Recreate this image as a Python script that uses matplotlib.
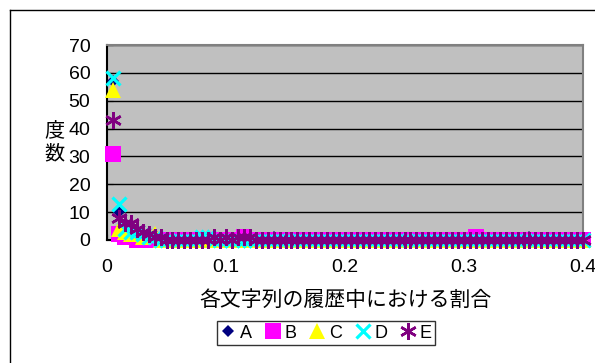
import matplotlib
matplotlib.use('Agg')
import matplotlib.pyplot as plt
from matplotlib.lines import Line2D

plt.rcParams['font.family'] = ['Liberation Sans', 'Noto Sans CJK JP', 'DejaVu Sans']

# 横軸: 割合の区間 (0.005 刻み)
ratio = [0.005, 0.010, 0.015, 0.020, 0.025, 0.030, 0.035, 0.040, 0.045, 0.050,
         0.055, 0.060, 0.065, 0.070, 0.075, 0.080, 0.085, 0.090, 0.095, 0.100,
         0.105, 0.110, 0.115, 0.120, 0.125, 0.130, 0.135, 0.140, 0.145, 0.150,
         0.155, 0.160, 0.165, 0.170, 0.175, 0.180, 0.185, 0.190, 0.195, 0.200,
         0.205, 0.210, 0.215, 0.220, 0.225, 0.230, 0.235, 0.240, 0.245, 0.250,
         0.255, 0.260, 0.265, 0.270, 0.275, 0.280, 0.285, 0.290, 0.295, 0.300,
         0.305, 0.310, 0.315, 0.320, 0.325, 0.330, 0.335, 0.340, 0.345, 0.350,
         0.355, 0.360, 0.365, 0.370, 0.375, 0.380, 0.385, 0.390, 0.395, 0.400]

# 度数
A = [57, 10, 3, 2, 1, 1, 0, 0, 0, 0, 0, 0, 0, 0, 0, 0, 0, 0, 0, 0,
     0, 0, 0, 0, 0, 0, 0, 1, 0, 0, 0, 0, 0, 0, 0, 0, 0, 0, 0, 0,
     0, 0, 0, 0, 0, 0, 0, 0, 0, 0, 0, 0, 0, 0, 0, 0, 0, 0, 0, 0,
     0, 0, 0, 0, 0, 0, 0, 0, 0, 0, 1, 0, 0, 0, 0, 0, 0, 0, 0, 0]
B = [31, 2, 1, 1, 0, 0, 0, 0, 0, 0, 0, 0, 0, 0, 0, 0, 0, 0, 0, 0,
     0, 0, 1, 0, 0, 0, 0, 0, 0, 0, 0, 0, 0, 0, 0, 0, 0, 0, 0, 0,
     0, 0, 0, 0, 0, 0, 0, 0, 0, 0, 0, 0, 0, 0, 0, 0, 0, 0, 0, 0,
     0, 1, 0, 0, 0, 0, 0, 0, 0, 0, 0, 0, 0, 0, 0, 0, 0, 0, 0, 0]
C = [54, 4, 3, 2, 2, 1, 2, 2, 0, 0, 0, 0, 0, 0, 0, 0, 0, 0, 0, 0,
     0, 0, 0, 0, 0, 0, 0, 0, 0, 0, 0, 0, 0, 0, 0, 0, 0, 0, 0, 0,
     0, 0, 0, 0, 0, 0, 0, 0, 0, 0, 0, 0, 0, 0, 0, 0, 0, 0, 0, 0,
     0, 0, 0, 0, 0, 0, 0, 0, 0, 0, 0, 0, 0, 0, 0, 0, 0, 0, 0, 0]
D = [58, 13, 4, 3, 3, 2, 1, 1, 0, 0, 0, 0, 0, 0, 0, 1, 1, 0, 0, 0,
     0, 0, 0, 0, 0, 0, 0, 0, 0, 0, 0, 0, 0, 0, 0, 0, 0, 0, 0, 0,
     0, 0, 0, 0, 0, 0, 0, 0, 0, 0, 0, 0, 0, 0, 0, 0, 0, 0, 0, 0,
     0, 0, 0, 0, 0, 0, 0, 0, 0, 0, 0, 0, 0, 0, 0, 0, 0, 0, 0, 0]
E = [43, 8, 6, 6, 4, 3, 2, 1, 1, 0, 0, 0, 0, 0, 0, 0, 0, 1, 0, 1,
     0, 1, 1, 1, 0, 0, 0, 0, 0, 0, 0, 0, 0, 0, 0, 0, 0, 0, 0, 0,
     0, 0, 0, 0, 0, 0, 0, 0, 0, 0, 0, 0, 0, 0, 0, 0, 0, 0, 0, 0,
     0, 0, 0, 0, 0, 0, 0, 0, 0, 0, 0, 0, 0, 0, 0, 0, 0, 0, 0, 0]

x_ticks = [0, 0.1, 0.2, 0.3, 0.4]
y_ticks = [0, 10, 20, 30, 40, 50, 60, 70]

fig = plt.figure(figsize=(5.95, 3.63), dpi=100)
ax = fig.add_axes([107 / 595, 1 - 240 / 363, 476 / 595, 195 / 363])
ax.set_facecolor('#C0C0C0')

styles = [
    ('A', A, dict(marker='D', color='#000080', ms=6.5, mew=0)),
    ('B', B, dict(marker='s', color='#FF00FF', ms=11, mew=0)),
    ('C', C, dict(marker='^', color='#FFFF00', ms=11, mew=0)),
    ('D', D, dict(marker='x', color='#00FFFF', ms=10, mew=2.3)),
    ('E', E, dict(marker=(6, 2, 0), color='#800080', ms=12, mew=1.8)),
]
for name, vals, kw in styles:
    ax.plot(ratio, vals, linestyle='none', label=name, clip_on=False, zorder=3, **kw)

ax.set_xlim(0, 0.4)
ax.set_ylim(0, 70)
ax.set_xticks(x_ticks)
ax.set_xticklabels(['0', '0.1', '0.2', '0.3', '0.4'])
ax.set_yticks(y_ticks)
ax.yaxis.grid(True, color='black', linewidth=1)
ax.set_axisbelow(True)
ax.tick_params(axis='both', direction='in', length=4, labelsize=14, colors='black')
ax.tick_params(axis='x', pad=14)
ax.tick_params(axis='y', pad=12)

for s in ['top', 'right']:
    ax.spines[s].set_color('#808080')
    ax.spines[s].set_linewidth(1.5)
for s in ['left', 'bottom']:
    ax.spines[s].set_color('black')
    ax.spines[s].set_linewidth(1.5)

ax.set_xlabel('各文字列の履歴中における割合', fontsize=15)
ax.xaxis.set_label_coords(0.5, -0.255)
ax.set_ylabel('度\n数', rotation=0, fontsize=14.5, linespacing=1.25, va='center', ha='center')
ax.yaxis.set_label_coords(-0.111, 0.5)

leg = ax.legend(loc='center', bbox_to_anchor=(326 / 595, 1 - 333 / 363),
                bbox_transform=fig.transFigure, ncol=5, fontsize=13,
                frameon=True, fancybox=False, handlelength=0.9, handletextpad=0.2,
                columnspacing=0.7, borderpad=0.2, borderaxespad=0)
leg.get_frame().set_edgecolor('black')
leg.get_frame().set_linewidth(1)

# 外枠 (左と上のみ見える)
fig.add_artist(Line2D([10 / 595, 10 / 595], [0, 1 - 10 / 363], color='black', lw=1))
fig.add_artist(Line2D([10 / 595, 1], [1 - 10 / 363, 1 - 10 / 363], color='black', lw=1))

fig.savefig('out.png', dpi=100)
